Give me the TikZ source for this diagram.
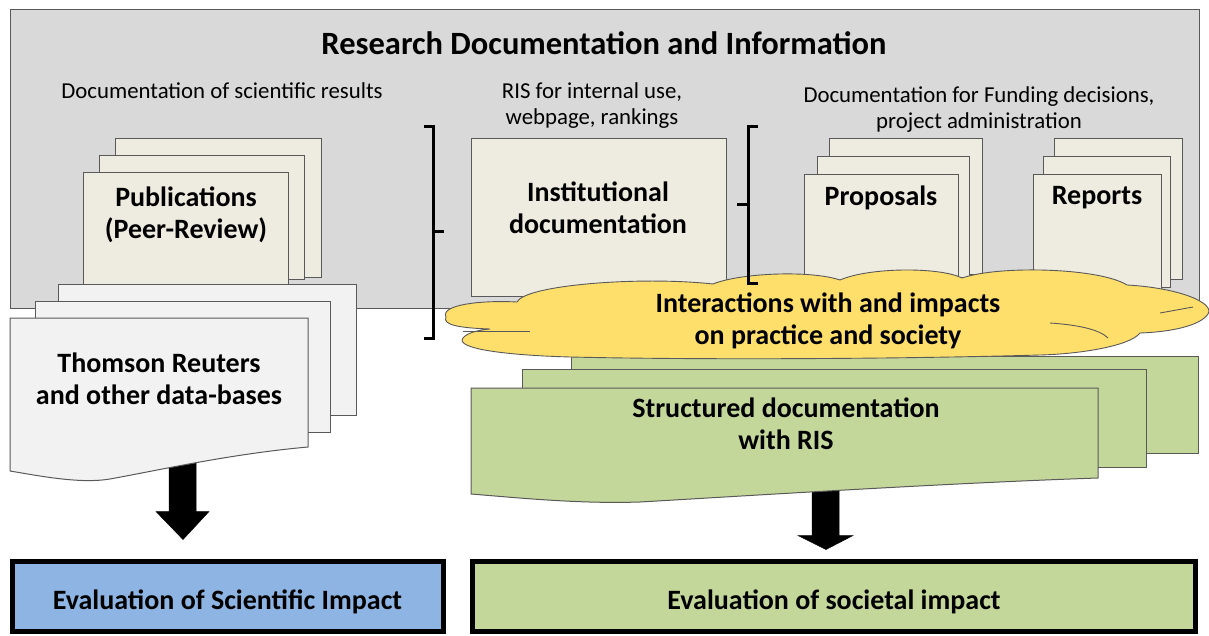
\documentclass[tikz,border=0pt]{standalone}
\usepackage{fontspec}
\setmainfont{Carlito}
\usetikzlibrary{calc}
\definecolor{bggray}{HTML}{D9D9D9}
\definecolor{edgegray}{HTML}{595959}
\definecolor{docfill}{HTML}{EEECE1}
\definecolor{tfill}{HTML}{F2F2F2}
\definecolor{gfill}{HTML}{C4D79B}
\definecolor{bfill}{HTML}{8DB4E2}
\definecolor{cfill}{HTML}{FFDF6B}
\tikzset{
  docbox/.style={fill=docfill,draw=edgegray,line width=1pt},
  tbox/.style={fill=tfill,draw=edgegray,line width=1pt},
  gbox/.style={fill=gfill,draw=edgegray,line width=1pt},
  cloudshape/.style={fill=cfill,draw=edgegray,line width=0.9pt},
  bracket/.style={draw=black,line width=3pt},
  blockarrow/.style={fill=black,draw=black,line width=0.5pt},
  evalbox/.style={draw=black,line width=5pt,minimum height=70pt,inner sep=0pt,
    font=\fontsize{28}{32}\selectfont\bfseries},
  titletxt/.style={font=\fontsize{32.5}{36}\selectfont\bfseries,align=center},
  subtxt/.style={font=\fontsize{22.8}{26}\selectfont,align=center},
  boxtxt/.style={font=\fontsize{28}{32.5}\selectfont\bfseries,align=center},
}
\begin{document}
\begin{tikzpicture}[x=1pt,y=-1pt]
\useasboundingbox (0,0) rectangle (1209,636);
% background panel
\draw[fill=bggray,draw=edgegray,line width=1pt] (10,10) rectangle (1199,308);
\node[titletxt] (title) at (604,43) {Research Documentation and Information};
\node[subtxt] (sub1) at (222,91) {Documentation of scientific results};
\node[subtxt] (sub2) at (592,106) {RIS for internal use,\\webpage, rankings};
\node[subtxt] (sub3) at (979,110) {Documentation for Funding decisions,\\project administration};
% evaluation boxes
\node[evalbox,fill=bfill,minimum width=431pt] (evsci) at (227.5,596) {\raisebox{-13pt}[0pt][0pt]{Evaluation of Scientific Impact}};
\node[evalbox,fill=gfill,minimum width=723pt] (evsoc) at (834,596) {\raisebox{-13pt}[0pt][0pt]{Evaluation of societal impact}};
% block arrows (drawn first, their tops are covered by the shapes)
\coordinate (s1) at (183,455);
\coordinate (t1) at ($(evsci.north)+(-44.5,-19)$);
\fill[blockarrow] ($(s1)+(-14,0)$) -- ($(s1)+(13,0)$) -- ($(t1)+(13,-28)$) -- ($(t1)+(26,-28)$)
  -- (t1) -- ($(t1)+(-27,-28)$) -- ($(t1)+(-14,-28)$) -- cycle;
\coordinate (s2) at (826,480);
\coordinate (t2) at ($(evsoc.north)+(-8,-9)$);
\fill[blockarrow] ($(s2)+(-14,0)$) -- ($(s2)+(13,0)$) -- ($(t2)+(13,-14)$) -- ($(t2)+(27,-14)$)
  -- (t2) -- ($(t2)+(-28,-14)$) -- ($(t2)+(-14,-14)$) -- cycle;
% publications stack
\draw[docbox] (115,139) rectangle (321,277);
\draw[docbox] (99,156) rectangle (304,279);
\draw[docbox] (83,173) rectangle (288,300);
\node[boxtxt] (pub) at (186,215) {Publications\\(Peer-Review)};
% Thomson stack
\draw[tbox] (58,284) rectangle (356,415);
\draw[tbox] (35,301) rectangle (330,432);
\draw[tbox] (10,318) -- (308,318) -- (308,447)
  .. controls (230,454) and (160,470) .. (110,479)
  .. controls (80,484) and (40,476) .. (10,471) -- cycle;
\node[boxtxt] (thomson) at (159,379) {Thomson Reuters\\and other data-bases};
% institutional
\draw[docbox] (471,139) rectangle (726,296);
\node[boxtxt] (inst) at (598,208) {Institutional\\documentation};
% proposals
\draw[docbox] (829,139) rectangle (982,274);
\draw[docbox] (817,157) rectangle (969,277);
\draw[docbox] (804,175) rectangle (958,300);
\node[boxtxt] (prop) at (881,198) {Proposals};
% reports
\draw[docbox] (1054,139) rectangle (1182,279);
\draw[docbox] (1043,157) rectangle (1170,287);
\draw[docbox] (1033,175) rectangle (1161,300);
\node[boxtxt] (rep) at (1097,198) {Reports};
% green stack
\draw[gbox] (571,356) rectangle (1198,453);
\draw[gbox] (522,369) rectangle (1146,467);
\draw[gbox] (471,388) -- (1098,388) -- (1098,478)
  .. controls (950,483) and (760,495) .. (640,502)
  .. controls (580,504) and (520,498) .. (471,494) -- cycle;
\node[boxtxt] (struct) at (786,424) {Structured documentation\\with RIS};
% cloud
\draw[cloudshape] (446,317)
  .. controls (440,305) and (480,300) .. (517,302)
  .. controls (525,285) and (640,276) .. (713,284)
  .. controls (740,273) and (810,270) .. (840,280)
  .. controls (870,267) and (940,267) .. (962,278)
  .. controls (1000,265) and (1100,268) .. (1127,285)
  .. controls (1180,288) and (1215,303) .. (1208,314)
  .. controls (1200,326) and (1170,332) .. (1140,333)
  .. controls (1130,346) and (1080,354) .. (1040,355)
  .. controls (900,359) and (700,360) .. (570,357)
  .. controls (500,355) and (455,348) .. (463,338)
  .. controls (468,332) and (480,330) .. (490,329)
  .. controls (460,328) and (442,325) .. (446,317) -- cycle;
\draw[edgegray,line width=0.9pt] (463,331) -- (530,331);
\draw[edgegray,line width=0.9pt] (1160,313) -- (1193,307);
\draw[edgegray,line width=0.9pt] (1050,323) .. controls (1080,325) and (1100,330) .. (1108,338);
\node[boxtxt] (cloudtxt) at (828,321) {Interactions with and impacts\\on practice and society};
% brackets
\draw[bracket] (424,127) -- (433,127) -- (433,338) -- (424,338);
\draw[bracket] (433,232) -- (444,232);
\draw[bracket] (758,127) -- (748,127) -- (748,283) -- (758,283);
\draw[bracket] (748,205) -- (737,205);
\end{tikzpicture}
\end{document}
